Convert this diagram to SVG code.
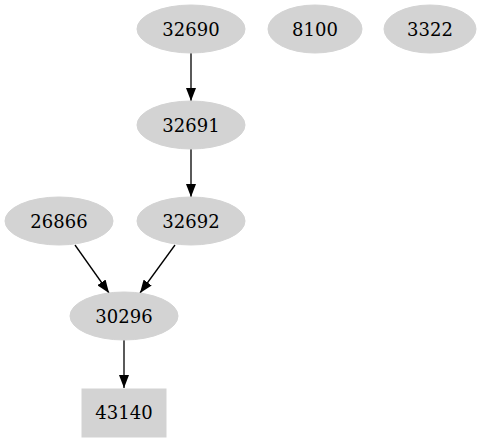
<svg xmlns="http://www.w3.org/2000/svg" width="482" height="443" viewBox="0 0 482 443">
<defs>
<style>
.n{fill:#d3d3d3;stroke:#d3d3d3;}
.t{font-family:"DejaVu Serif",serif;font-size:18px;fill:#000;text-anchor:middle;}
.e{stroke:#000;stroke-width:1.3;fill:none;marker-end:url(#ah);}
</style>
<marker id="ah" viewBox="0 0 13 10" refX="13" refY="5" markerWidth="13" markerHeight="10" markerUnits="userSpaceOnUse" orient="auto">
<path d="M0,0 L13,5 L0,10 Z" fill="#000"/>
</marker>
</defs>
<rect width="482" height="443" fill="#fff"/>
<g id="edges">
<line class="e" x1="191" y1="53" x2="191" y2="101"/>
<line class="e" x1="191" y1="149" x2="191" y2="197"/>
<line class="e" x1="75" y1="245" x2="109" y2="293"/>
<line class="e" x1="175" y1="245" x2="140" y2="293"/>
<line class="e" x1="124" y1="340" x2="124" y2="388"/>
</g>
<g id="n32690"><ellipse class="n" cx="191" cy="29" rx="54" ry="24"/><text class="t" x="191" y="35.5">32690</text></g>
<g id="n8100"><ellipse class="n" cx="315" cy="29" rx="47" ry="24"/><text class="t" x="315" y="35.5">8100</text></g>
<g id="n3322"><ellipse class="n" cx="430" cy="29" rx="46" ry="24"/><text class="t" x="430" y="35.5">3322</text></g>
<g id="n32691"><ellipse class="n" cx="191" cy="125" rx="54" ry="24"/><text class="t" x="191" y="131.5">32691</text></g>
<g id="n26866"><ellipse class="n" cx="59" cy="221" rx="54" ry="24"/><text class="t" x="59" y="227.5">26866</text></g>
<g id="n32692"><ellipse class="n" cx="191" cy="221" rx="54" ry="24"/><text class="t" x="191" y="227.5">32692</text></g>
<g id="n30296"><ellipse class="n" cx="124" cy="316" rx="54" ry="24"/><text class="t" x="124" y="322.5">30296</text></g>
<g id="n43140"><rect class="n" x="82" y="389" width="84" height="48"/><text class="t" x="124" y="419">43140</text></g>
</svg>
